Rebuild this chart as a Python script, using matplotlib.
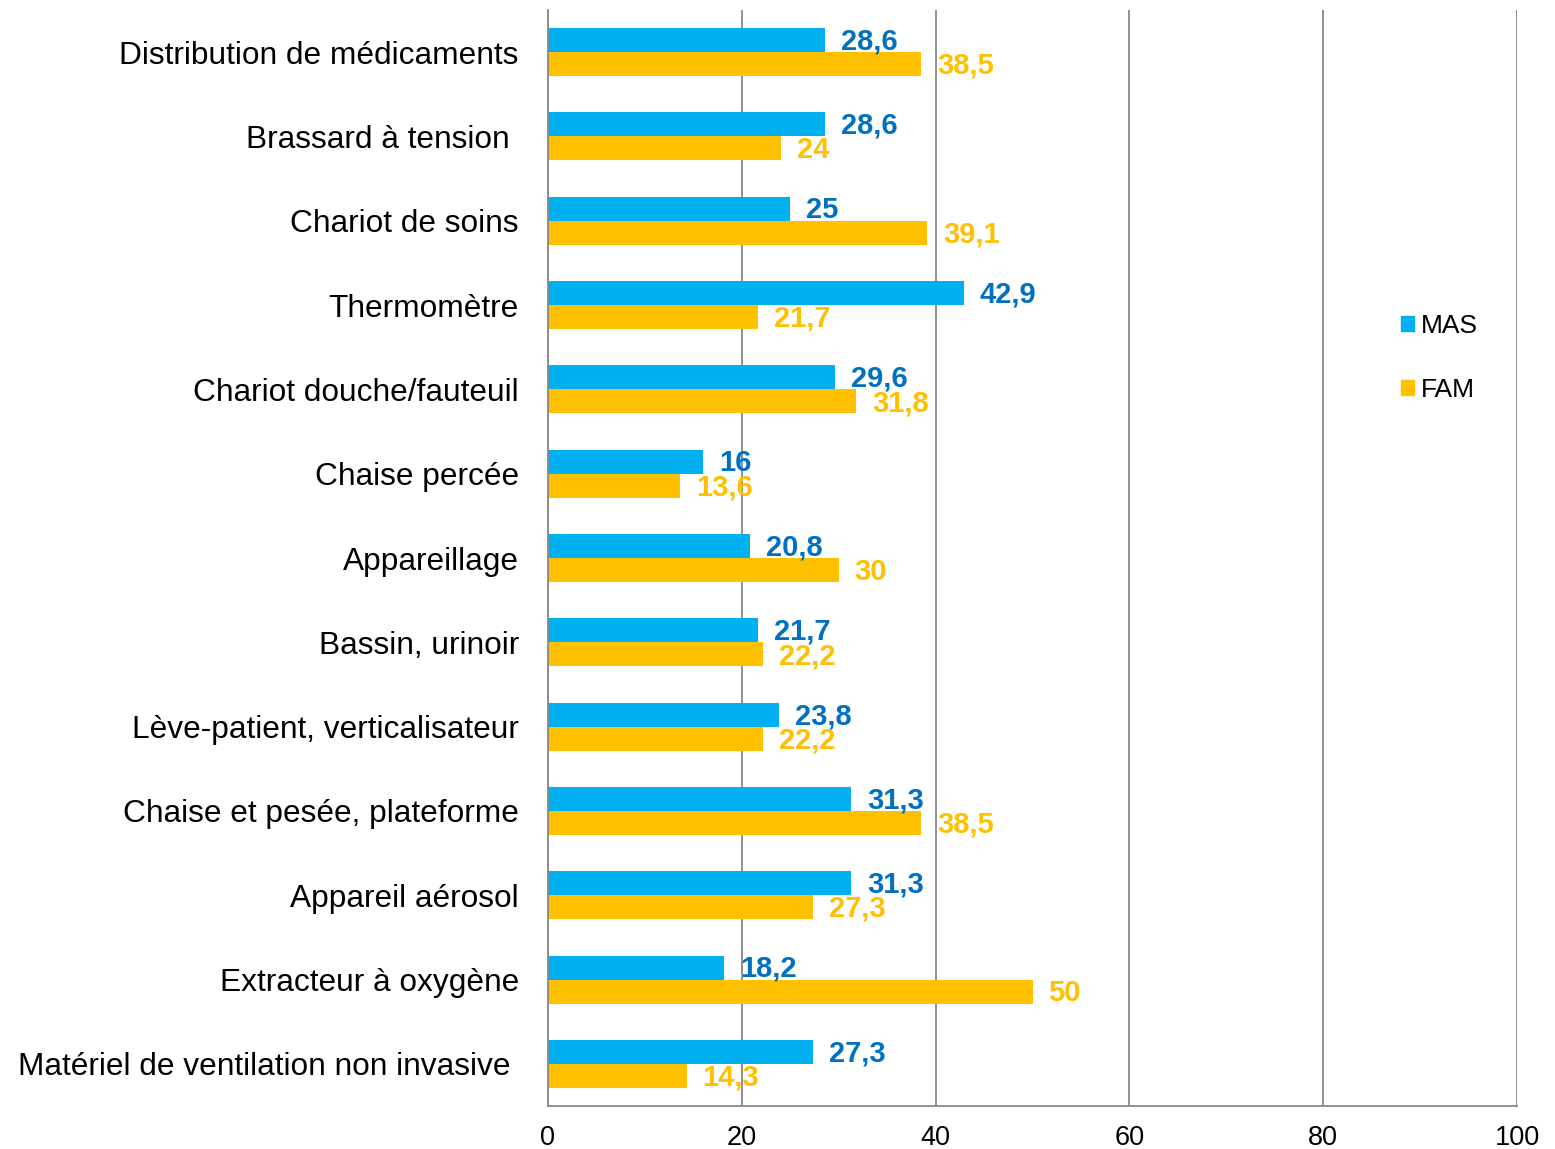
import numpy as np
import matplotlib.pyplot as plt
from matplotlib.patches import Patch

plt.rcParams['font.family'] = ['Liberation Sans', 'DejaVu Sans']

categories = [
    "Distribution de médicaments",
    "Brassard à tension ",
    "Chariot de soins",
    "Thermomètre",
    "Chariot douche/fauteuil",
    "Chaise percée",
    "Appareillage",
    "Bassin, urinoir",
    "Lève-patient, verticalisateur",
    "Chaise et pesée, plateforme",
    "Appareil aérosol",
    "Extracteur à oxygène",
    "Matériel de ventilation non invasive ",
]
mas = [28.6, 28.6, 25, 42.9, 29.6, 16, 20.8, 21.7, 23.8, 31.3, 31.3, 18.2, 27.3]
fam = [38.5, 24, 39.1, 21.7, 31.8, 13.6, 30, 22.2, 22.2, 38.5, 27.3, 50, 14.3]

MAS_COLOR = '#00B0F0'
FAM_COLOR = '#FFC000'
MAS_TEXT = '#0070C0'

fig = plt.figure(figsize=(15.55, 11.49), dpi=100)
ax = fig.add_axes([0.3524, 0.0374, 0.6232, 0.9539])

y = np.arange(len(categories))
h = 0.285
ax.barh(y - h / 2, mas, height=h, color=MAS_COLOR, zorder=2)
ax.barh(y + h / 2, fam, height=h, color=FAM_COLOR, zorder=2)

def fmt(v):
    return (f'{v:g}').replace('.', ',')

# value labels just right of each bar end (they overlap a bit, as in the original)
for yi, v in zip(y, mas):
    ax.annotate(fmt(v), (v, yi - h / 2), xytext=(11.5, -1), textcoords='offset points',
                ha='left', va='center', color=MAS_TEXT, fontsize=21, fontweight='bold')
for yi, v in zip(y, fam):
    ax.annotate(fmt(v), (v, yi + h / 2), xytext=(11.5, -1.2), textcoords='offset points',
                ha='left', va='center', color=FAM_COLOR, fontsize=21, fontweight='bold')

ax.set_xlim(0, 100)
ax.set_ylim(len(categories) - 0.5, -0.5)
ax.set_xticks(range(0, 101, 20))
ax.set_yticks(y)
ax.set_yticklabels(categories, fontsize=22.8)
ax.tick_params(axis='y', length=0, pad=21)
ax.tick_params(axis='x', length=0, pad=14, labelsize=19.5)

ax.grid(axis='x', color='#888888', linewidth=1.3, zorder=0)
for s in ['top', 'right']:
    ax.spines[s].set_visible(False)
for s in ['left', 'bottom']:
    ax.spines[s].set_color('#888888')
    ax.spines[s].set_linewidth(1.3)

handles = [Patch(color=MAS_COLOR, label='MAS'), Patch(color=FAM_COLOR, label='FAM')]
ax.legend(handles=handles, loc='center left', bbox_to_anchor=(0.880, 0.6825),
          frameon=False, fontsize=19, handlelength=0.5, handleheight=0.5,
          handletextpad=0.25, labelspacing=1.5, borderpad=0, borderaxespad=0)

fig.savefig('out.png', dpi=100)
